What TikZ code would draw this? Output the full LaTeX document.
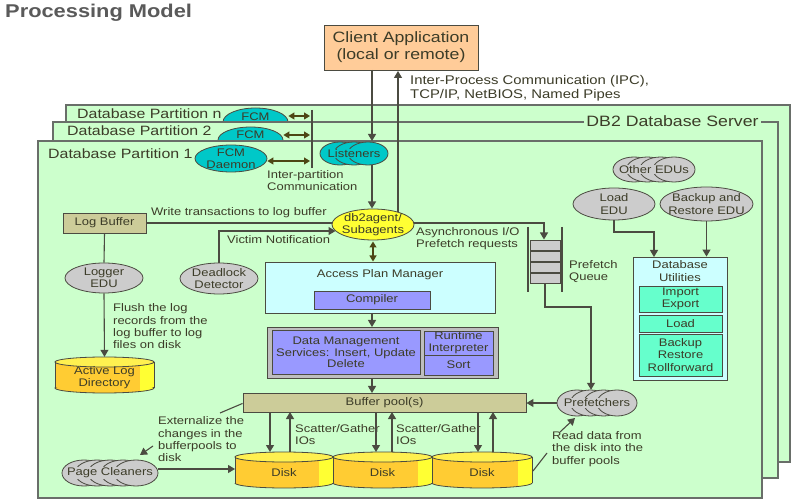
\documentclass[tikz,border=0pt]{standalone}
\usepackage{fontspec}
\setmainfont[FakeStretch=1.18]{Liberation Sans}
\usetikzlibrary{shapes.geometric,arrows.meta}
\definecolor{pgreen}{RGB}{204,255,204}
\definecolor{pborder}{RGB}{105,110,105}
\definecolor{txtc}{RGB}{60,60,40}
\definecolor{titlec}{RGB}{90,90,90}
\definecolor{clientc}{RGB}{255,204,153}
\definecolor{cyanc}{RGB}{0,200,200}
\definecolor{grayc}{RGB}{204,204,204}
\definecolor{yellowc}{RGB}{255,255,51}
\definecolor{tanc}{RGB}{204,204,153}
\definecolor{lcyanc}{RGB}{204,255,255}
\definecolor{lavc}{RGB}{153,153,255}
\definecolor{aquac}{RGB}{102,255,204}
\definecolor{dmsgray}{RGB}{190,190,190}
\definecolor{diskc}{RGB}{255,204,51}
\definecolor{diskhi}{RGB}{255,255,51}
\definecolor{disktop}{RGB}{255,240,80}
\definecolor{olivec}{RGB}{77,70,20}
\definecolor{linec}{RGB}{75,75,65}
\tikzset{
  every node/.style={text=txtc, font=\fontsize{11}{12.3}\selectfont, align=center},
  part/.style={fill=pgreen, draw=pborder, line width=1.1pt},
  partlbl/.style={anchor=west, inner sep=0, font=\fontsize{13.5}{15}\selectfont},
  box/.style={draw=linec, line width=0.9pt, inner sep=0},
  ellnode/.style={ellipse, draw=linec, line width=0.8pt, inner sep=0},
  lbl/.style={anchor=west, align=left, inner sep=0},
  conn/.style={draw=linec, line width=1.1pt},
  arr/.style={conn, -{Triangle[length=7pt,width=8pt]}},
  darr/.style={draw=olivec, line width=1.1pt, {Triangle[length=6pt,width=7pt]}-{Triangle[length=6pt,width=7pt]}},
  cylline/.style={draw=linec, line width=0.8pt},
}
% cylinder: name, x1, ytop, x2, ybottom, text
\newcommand\mycyl[6]{%
  \pgfmathsetmacro\cycx{(#2+#4)/2}%
  \pgfmathsetmacro\cyrx{(#4-#2)/2}%
  \pgfmathsetmacro\cyt{#3+5}%
  \pgfmathsetmacro\cyb{#5-5}%
  \pgfmathsetmacro\cyh{#4-14}%
  \pgfmathsetmacro\cycy{(#3+#5)/2}%
  \pgfmathsetmacro\cyw{#4-#2}%
  \pgfmathsetmacro\cyhh{#5-#3}%
  \fill[diskc] (\cycx,\cyb) ellipse [x radius=\cyrx pt, y radius=5pt];
  \fill[diskc] (#2,\cyt) rectangle (#4,\cyb);
  \fill[diskhi] (\cyh,\cyt) rectangle (#4,\cyb);
  \begin{scope}
    \clip (\cycx,\cyb) ellipse [x radius=\cyrx pt, y radius=5pt];
    \fill[diskhi] (\cyh,\cyb) rectangle (#4,#5);
  \end{scope}
  \draw[cylline] (#2,\cyt) -- (#2,\cyb);
  \draw[cylline] (#4,\cyt) -- (#4,\cyb);
  \begin{scope}
    \clip (#2-2,\cyb) rectangle (#4+2,#5+2);
    \draw[cylline] (\cycx,\cyb) ellipse [x radius=\cyrx pt, y radius=5pt];
  \end{scope}
  \filldraw[cylline, fill=disktop] (\cycx,\cyt) ellipse [x radius=\cyrx pt, y radius=5pt];
  \node[inner sep=0, minimum width=\cyw, minimum height=\cyhh,
        label={[yshift=-3pt]center:#6}] (#1) at (\cycx,\cycy) {};
}
% cloud: name, x1, y1, x2, y2, n, w, text, colour
\newcommand\mycloud[9]{%
  \pgfmathsetmacro\clrx{#7/2}%
  \pgfmathsetmacro\clry{(#5-#3)/2}%
  \pgfmathsetmacro\clcy{(#3+#5)/2}%
  \pgfmathsetmacro\clcx{(#2+#4)/2}%
  \pgfmathsetmacro\clstep{(#4-#2-#7)/(#6-1)}%
  \foreach \k in {1,...,#6}{
    \pgfmathsetmacro\clx{#2+\clrx+(\k-1)*\clstep}
    \filldraw[fill=#9, draw=linec, line width=0.8pt] (\clx,\clcy) ellipse [x radius=\clrx pt, y radius=\clry pt];
  }
  \node[inner sep=0, minimum width={#4-#2}, minimum height={#5-#3}] (#1) at (\clcx,\clcy) {};
  \node[fill=#9, inner xsep=1pt, inner ysep=0.5pt] at (\clcx,\clcy) {#8};
}
\begin{document}
\begin{tikzpicture}[x=1pt,y=-1pt]
\useasboundingbox (0,0) rectangle (795,502);
\fill[white] (0,0) rectangle (795,502);
\node[anchor=west, inner sep=0, text=titlec, font=\fontsize{18.5}{20}\selectfont\bfseries] (title) at (5,12.5) {Processing Model};

% ---- partition n
\draw[part] (66,105) rectangle (790,462);
\node[partlbl] (lpn) at (77,114) {Database Partition n};
\node[ellnode, fill=cyanc, minimum width=65, minimum height=28] (fcmn) at (255.5,122) {};
\node (tfcmn) at (255.5,116.5) {FCM};
% ---- partition 2
\draw[part] (53,122) rectangle (778,478);
\node[partlbl] (lp2) at (67,131) {Database Partition 2};
\node[ellnode, fill=cyanc, minimum width=65, minimum height=26] (fcm2) at (250.5,140) {};
\node (tfcm2) at (250.5,135) {FCM};
\node[fill=pgreen, inner sep=2pt, font=\fontsize{15}{17}\selectfont] (srv) at (672.5,121) {DB2 Database Server};
% ---- partition 1
\draw[part] (38,141) rectangle (762,498);
\node[partlbl] (lp1) at (48,154) {Database Partition 1};

\node[ellnode, fill=cyanc, minimum width=72, minimum height=27, label={center:FCM\\Daemon}] (fcmd) at (231,158.5) {};
\coordinate (ipct) at (312,110);
\coordinate (ipcb) at (312,168);
\draw[conn] (ipct) -- (ipcb);
\coordinate (ia) at (310,116);
\coordinate (ib) at (310,135);
\coordinate (ic) at (310,161);
\draw[darr] (fcmn.east |- ia) -- (ia);
\draw[darr] (fcm2.east |- ib) -- (ib);
\draw[darr] (fcmd.east |- ic) -- (ic);
\node[lbl] (iptxt) at (267,180.5) {Inter-partition\\Communication};

% ---- client
\node[box, fill=clientc, minimum width=154, minimum height=45, font=\fontsize{15}{17}\selectfont] (client) at (401,47.5) {Client Application\\(local or remote)};
\node[lbl, font=\fontsize{12.6}{14}\selectfont] (ipc) at (410,88) {Inter-Process Communication (IPC),\\TCP/IP, NetBIOS, Named Pipes};

% ---- listeners and agent
\mycloud{lis}{320}{142}{388}{165}{3}{40}{Listeners}{cyanc}
\node[ellnode, fill=yellowc, minimum width=82, minimum height=31, label={center:db2agent/\\Subagents}] (agent) at (373,224.5) {};

% ---- log
\node[box, fill=tanc, minimum width=83, minimum height=20] (logbuf) at (104.5,223) {Log Buffer};
\node[ellnode, fill=grayc, minimum width=78, minimum height=30, label={center:Logger\\EDU}] (logger) at (104,278) {};
\node[ellnode, fill=grayc, minimum width=78, minimum height=31, label={center:Deadlock\\Detector}] (dead) at (219,278.5) {};
\mycyl{alog}{55}{357}{154}{393}{Active Log\\Directory}
\node[lbl] (flush) at (113,326.5) {Flush the log\\records from the\\log buffer to log\\files on disk};
\node[lbl] (wtxt) at (151,213) {Write transactions to log buffer};
\node[lbl] (vtxt) at (227,240) {Victim Notification};

% ---- access plan manager / dms
\node[box, fill=lcyanc, minimum width=230, minimum height=51] (apm) at (380,287.5) {};
\node (apmt) at (380,275) {Access Plan Manager};
\node[box, fill=lavc, minimum width=116, minimum height=18] (comp) at (372,300) {Compiler};
\node[box, fill=dmsgray, minimum width=231, minimum height=51] (dms) at (382.5,352.5) {};
\node[box, fill=lavc, minimum width=148, minimum height=44, font=\fontsize{11}{11.7}\selectfont] (dmsi) at (346,352.5) {Data Management\\Services: Insert, Update\\Delete};
\node[box, fill=lavc, minimum width=69, minimum height=24, font=\fontsize{11}{11.7}\selectfont] (rti) at (458.5,343) {Runtime\\Interpreter};
\node[box, fill=lavc, minimum width=69, minimum height=20] (sort) at (458.5,365) {Sort};

% ---- buffer pool and disks
\node[box, fill=tanc, minimum width=283, minimum height=19] (bp) at (384.5,402.5) {Buffer pool(s)};
\mycyl{d1}{235}{452}{333}{488}{Disk}
\mycyl{d2}{333}{452}{432}{488}{Disk}
\mycyl{d3}{432}{452}{532}{488}{Disk}
\mycloud{pc}{62}{460}{158}{486}{5}{44}{Page Cleaners}{grayc}
\mycloud{pref}{557}{390}{637}{416}{4}{40}{Prefetchers}{grayc}
\node[lbl] (sg1) at (295,434.5) {Scatter/Gather\\IOs};
\node[lbl] (sg2) at (396,434.5) {Scatter/Gather\\IOs};
\node[lbl] (ext) at (158,439.5) {Externalize the\\changes in the\\bufferpools to\\disk};
\node[lbl] (rd) at (552,449) {Read data from\\the disk into the\\buffer pools};

% ---- prefetch queue
\foreach \a/\b in {240/250,251/261,262/272,273/283}
  \filldraw[fill=grayc, draw=linec, line width=0.8pt] (530,\a) rectangle (560,\b);
\draw[conn] (528,227) -- (528,292);
\draw[conn] (562,227) -- (562,292);
\node[inner sep=0, minimum width=30, minimum height=43] (queue) at (545,261.5) {};
\node[lbl] (pqtxt) at (569,271.5) {Prefetch\\Queue};
\node[lbl] (async) at (416,239) {Asynchronous I/O\\Prefetch requests};

% ---- utilities
\mycloud{oth}{613}{157}{695}{182}{4}{42}{Other EDUs}{grayc}
\node[ellnode, fill=grayc, minimum width=82, minimum height=32, label={center:Load\\EDU}] (loadedu) at (614,204) {};
\node[ellnode, fill=grayc, minimum width=93, minimum height=34, label={center:Backup and\\Restore EDU}] (bkedu) at (706.5,204) {};
\node[box, fill=lcyanc, minimum width=94, minimum height=123] (util) at (680,318.5) {};
\node (utilt) at (680,271) {Database\\Utilities};
\node[box, fill=aquac, minimum width=83, minimum height=26] (imp) at (680.5,299) {Import\\Export};
\node[box, fill=aquac, minimum width=83, minimum height=17] (uload) at (680.5,323.5) {Load};
\node[box, fill=aquac, minimum width=83, minimum height=42] (ubk) at (680.5,355) {Backup\\Restore\\Rollforward};

% ---- connectors
\coordinate (ca) at (372,70);
\coordinate (cb) at (372,141);
\draw[arr] (ca) -- (cb);
\draw[arr] (lis.south -| cb) -- (372,208.5);
\draw[arr] (398,212) -- (398,71);
\draw[conn] (logbuf.east) -- (332,223);
\draw[arr] (dead.north) |- (335.5,231);
\draw[conn] (logbuf.south) -- (logger.north);
\draw[arr] (logger.south) -- (alog.north);
\draw[darr] (373,241.5) -- (373,261.5);
\draw[arr] (372,313) -- (372,327);
\draw[arr] (372,378) -- (372,393);
\draw[arr] (414,223) -| (544,239.5);
\draw[arr] (queue.south) -- (545,307) -| (pref.north -| 591,0);
\draw[arr] (loadedu.south) -- (614,232) -| (654,257);
\draw[arr] (bkedu.south) -- (bkedu.south |- util.north);
\draw[arr] (pref.west) -- (bp.east |- pref.west);
\draw[arr] (270,412) -- (270,452);
\draw[arr] (290,452) -- (290,412);
\draw[arr] (376,412) -- (376,452);
\draw[arr] (392,452) -- (392,412);
\draw[arr] (478,412) -- (478,452);
\draw[arr] (493,452) -- (493,412);
\draw[arr] (158,469) -- (235,469);
\draw[conn] (bp.south west) ++(0,-9) -- (220,413);
\draw[arr] (153,446) -- (140,455);
\draw[conn] (533,471) -- (547,453);
\draw[arr] (560,432) -- (575,418);
\end{tikzpicture}
\end{document}
